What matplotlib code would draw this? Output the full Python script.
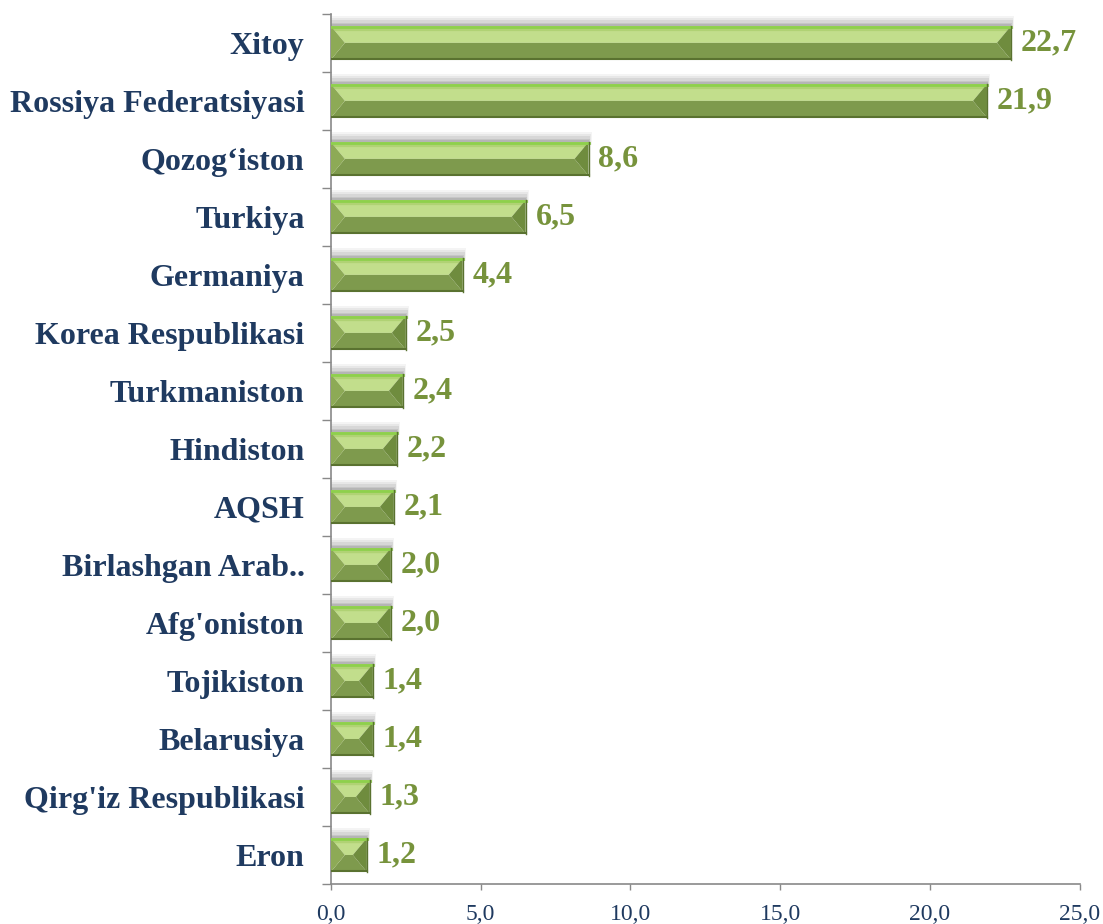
import numpy as np
import matplotlib.pyplot as plt
from matplotlib.patches import Polygon, Rectangle

# Ma'lumotlar
davlatlar = ['Xitoy', 'Rossiya Federatsiyasi', 'Qozog\u2018iston', 'Turkiya', 'Germaniya',
             'Korea Respublikasi', 'Turkmaniston', 'Hindiston', 'AQSH', 'Birlashgan Arab..',
             "Afg'oniston", 'Tojikiston', 'Belarusiya', "Qirg'iz Respublikasi", 'Eron']
ulush = [22.7, 21.9, 8.6, 6.5, 4.4, 2.5, 2.4, 2.2, 2.1, 2.0, 2.0, 1.4, 1.4, 1.3, 1.2]
x_ticks = [0, 5, 10, 15, 20, 25]

plt.rcParams['font.family'] = ['Liberation Serif', 'DejaVu Serif']

navy = '#1f3a60'
olive = '#77933c'

fig = plt.figure(figsize=(11.03, 9.24), dpi=100)
ax = fig.add_axes([0.300, 0.0433, 0.679, 0.9417])

n = len(davlatlar)
y = np.arange(n)
h = 0.58
ax.set_xlim(0, 25)
ax.set_ylim(n - 0.5, -0.5)

# piksel -> ma'lumot birligi
px_x = ax.transData.transform((1, 0))[0] - ax.transData.transform((0, 0))[0]
bevel = 14 / px_x

for yi, v in zip(y, ulush):
    top, bot, mid = yi - h / 2, yi + h / 2, yi
    # soya
    for k, a in zip([0.18, 0.14, 0.10, 0.06, 0.03], [0.06, 0.08, 0.10, 0.12, 0.14]):
        ax.add_patch(Rectangle((0, top - k), v + k * 0.6, k + 0.05, color='#505050',
                               alpha=a, lw=0, zorder=1))
    d = min(bevel, v / 2)
    ax.add_patch(Polygon([(0, top), (v, top), (v - d, mid), (d, mid)],
                         color='#c2de8c', lw=0, zorder=3))
    ax.add_patch(Polygon([(0, top), (v, top), (v - d * 0.3, top + h * 0.15), (d * 0.3, top + h * 0.15)],
                         color='#b0d274', lw=0, zorder=3))
    ax.add_patch(Polygon([(0, bot), (v, bot), (v - d, mid), (d, mid)],
                         color='#7e9a4d', lw=0, zorder=3))
    ax.add_patch(Polygon([(0, top), (d, mid), (0, bot)],
                         color='#8daa56', lw=0, zorder=3))
    ax.add_patch(Polygon([(v, top), (v - d, mid), (v, bot)],
                         color='#6f8c3e', lw=0, zorder=3))
    ax.plot([0, v], [top + 0.02, top + 0.02], color='#8ed04c', lw=2, zorder=4)
    ax.plot([0, v], [bot - 0.02, bot - 0.02], color='#5a7230', lw=1.5, zorder=4)
    ax.plot([v, v], [top, bot], color='#5a7230', lw=1, zorder=4)
    ax.text(v + 0.33, yi, f'{v:.1f}'.replace('.', ','), va='center', ha='left',
            fontsize=23, fontweight='bold', color=olive, zorder=5)

ax.set_yticks(y)
ax.set_yticklabels(davlatlar, fontsize=23, fontweight='bold', color=navy)
ax.set_yticks(np.arange(-0.5, n, 1), minor=True)
ax.tick_params(axis='y', which='major', length=0, pad=19)
ax.tick_params(axis='y', which='minor', length=6.5, width=1, color='#898989')

ax.set_xticks(x_ticks)
ax.set_xticklabels([f'{t:.1f}'.replace('.', ',') for t in x_ticks], fontsize=17, color=navy)
ax.tick_params(axis='x', length=4.3, width=1, color='#898989', pad=10)

for s in ['top', 'right']:
    ax.spines[s].set_visible(False)
for s in ['left', 'bottom']:
    ax.spines[s].set_color('#898989')
    ax.spines[s].set_linewidth(1.2)

fig.savefig('out.png', dpi=100)
